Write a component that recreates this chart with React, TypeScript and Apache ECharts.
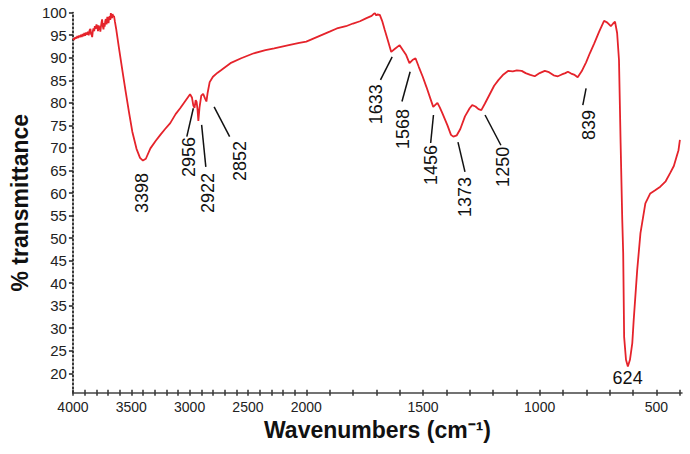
import React, { useEffect, useRef } from "react";
import * as echarts from "echarts";

// Spectrum (wavenumber in cm^-1, % transmittance)
const wavenumbers = [
  4000, 3990, 3980, 3970, 3962, 3955, 3947, 3940, 3932, 3925, 3917, 3910, 3902, 3895, 3887, 3880, 3872, 3865, 3857, 3850,
  3845, 3840, 3835, 3830, 3824, 3818, 3812, 3805, 3798, 3790, 3785, 3780, 3775, 3770, 3765, 3760, 3755, 3750, 3745, 3738,
  3733, 3728, 3723, 3718, 3712, 3705, 3700, 3695, 3690, 3685, 3680, 3675, 3670, 3665, 3661, 3657, 3652, 3648, 3640, 3630,
  3605, 3575, 3548, 3520, 3491, 3455, 3425, 3400, 3375, 3336, 3290, 3251, 3210, 3166, 3120, 3081, 3040, 2996, 2980, 2968,
  2958, 2948, 2940, 2932, 2925, 2915, 2900, 2884, 2868, 2856, 2845, 2828, 2800, 2760, 2728, 2650, 2558, 2450, 2350, 2275,
  2150, 2060, 2000,
  1950, 1900, 1869, 1830, 1800, 1770, 1742, 1720, 1712, 1706, 1700, 1695, 1685, 1675, 1664, 1650, 1636, 1620, 1600, 1585,
  1572, 1558, 1545, 1532, 1518, 1501, 1485, 1466, 1456, 1446, 1438, 1428, 1417, 1395, 1380, 1370, 1355, 1340, 1320, 1300,
  1289, 1275, 1262, 1250, 1235, 1215, 1195, 1176, 1155, 1134, 1115, 1098, 1077, 1060, 1040, 1021, 1000, 978, 960, 940,
  922, 905, 890, 879, 865, 850, 837, 820, 801, 785, 766, 745, 724, 710, 695, 685, 677, 668, 660, 653,
  646, 642, 638, 630, 622, 613, 603, 597, 582, 568, 547, 526, 505, 483, 460, 441, 425, 413, 405, 399,
];
const transmittance = [
  94.3, 94.0, 94.5, 94.3, 94.8, 94.4, 94.9, 94.6, 95.1, 94.6, 95.3, 94.8, 95.5, 94.9, 95.6, 95.1, 95.8, 95.0, 96.1, 96.4,
  95.3, 95.1, 94.6, 95.8, 96.5, 95.9, 97.0, 96.4, 97.4, 96.8, 95.9, 97.2, 96.2, 97.0, 95.8, 96.9, 97.8, 98.5, 97.2, 96.3,
  97.7, 96.9, 98.1, 98.6, 97.4, 99.1, 98.2, 97.7, 98.9, 99.2, 98.4, 99.9, 99.0, 98.8, 99.7, 99.8, 99.1, 99.3, 98.0, 96.5,
  92.1, 87.0, 82.5, 78.0, 73.6, 69.8, 67.8, 67.2, 67.6, 69.9, 71.6, 72.9, 74.2, 75.5, 77.5, 78.8, 80.3, 81.9, 81.2, 79.4,
  78.9, 80.6, 80.2, 78.5, 76.0, 79.0, 81.6, 82.0, 81.0, 80.3, 82.3, 84.6, 85.8, 86.7, 87.3, 88.8, 89.9, 91.0, 91.7, 92.1,
  92.8, 93.3, 93.6,
  94.7, 95.8, 96.5, 97.0, 97.6, 98.1, 98.8, 99.3, 99.7, 99.9, 99.4, 99.6, 99.5, 98.2, 96.2, 93.8, 91.3, 92.0, 92.8, 91.6,
  90.6, 88.8, 89.5, 89.9, 88.0, 85.8, 83.5, 80.6, 79.1, 79.6, 80.0, 79.0, 77.7, 75.0, 72.9, 72.5, 72.8, 74.2, 77.0, 78.8,
  79.5, 79.2, 78.6, 78.4, 79.8, 81.8, 83.8, 85.1, 86.3, 87.1, 87.0, 87.2, 87.1, 86.6, 86.2, 85.9, 86.6, 87.1, 86.8, 86.1,
  85.9, 86.3, 86.6, 86.9, 86.5, 86.2, 85.7, 87.0, 89.0, 91.0, 93.2, 95.8, 98.2, 97.8, 97.0, 97.6, 98.0, 95.5, 89.5, 71.0,
  54.0, 46.7, 28.1, 23.0, 21.5, 23.0, 26.7, 31.8, 42.9, 51.1, 57.7, 59.9, 60.6, 61.4, 62.6, 64.4, 66.0, 68.1, 69.5, 71.8,
];

// Axis labels
const xLabelValues = [4000, 3500, 3000, 2500, 2000, 1500, 1000, 500];
const yLabelValues = [20, 25, 30, 35, 40, 45, 50, 55, 60, 65, 70, 75, 80, 85, 90, 95, 100];
const X_END = 390;
const Y_MIN = 15.7;

// Peak annotations: text anchor (wavenumber, %T), optional leader line
const peakLabels = ["3398", "2956", "2922", "2852", "1633", "1568", "1456", "1373", "1250", "839", "624"];
const peakTextW = [3404, 3002, 2844, 2564, 1701, 1586, 1467, 1318, 1158, 789, 623];
const peakTextV = [60.0, 68.0, 60.0, 67.1, 79.7, 74.2, 66.2, 59.1, 65.8, 75.1, 19.0];
const peakRotated = [true, true, true, true, true, true, true, true, true, true, false];
const leaderFromW = [null, 2968, 2897, 2790, 1632, 1555, 1455, 1350, 1234, 801, null];
const leaderFromV = [null, 78.8, 75.1, 79.1, 90.2, 86.9, 77.3, 71.3, 77.3, 83.2, null];
const leaderToW = [null, 3024, 2861, 2657, 1682, 1590, 1467, 1320, 1166, 815, null];
const leaderToV = [null, 72.5, 65.8, 72.5, 85.1, 80.3, 71.1, 64.7, 70.6, 79.5, null];

// Split x-axis: 4000-2000 at half scale, below 2000 at full scale
const toT = (w: number) => (w >= 2000 ? (4000 - w) / 2 : 1000 + (2000 - w));
const fromT = (t: number) => (t <= 1000 ? 4000 - 2 * t : 3000 - t);

const FONT = "'Liberation Sans', Arial, Helvetica, sans-serif";
const RED = "#e5232b";

export default function App() {
  const ref = useRef<HTMLDivElement>(null);
  useEffect(() => {
    if (!ref.current) return;
    const chart = echarts.init(ref.current, null, { renderer: "svg" });
    const tickW: number[] = [];
    for (let w = 4000; w >= 400; w -= 100) tickW.push(w);
    const tickT = tickW.map(toT);
    const labelT = xLabelValues.map(toT);
    const xMax = toT(X_END);

    const baseX = {
      type: "value",
      min: 0,
      max: xMax,
      splitLine: { show: false },
    };

    chart.setOption({
      animation: false,
      backgroundColor: "#ffffff",
      grid: { left: 66.7, right: 8, top: 12.7, bottom: 61.3, containLabel: false },
      xAxis: [
        {
          ...baseX,
          name: "Wavenumbers (cm⁻¹)",
          nameLocation: "middle",
          nameGap: 25,
          nameTextStyle: { fontFamily: FONT, fontSize: 23, fontWeight: "bold", color: "#111" },
          axisLine: { show: true, lineStyle: { color: "#444", width: 1.5 } },
          axisTick: { show: true, inside: false, length: 3, lineStyle: { color: "#333", width: 1.5 }, customValues: tickT },
          axisLabel: {
            show: true,
            margin: 7,
            fontFamily: FONT,
            fontSize: 14,
            color: "#222",
            customValues: labelT,
            formatter: (v: number) => String(Math.round(fromT(v))),
          },
        },
        {
          ...baseX,
          position: "bottom",
          axisLine: { show: false },
          axisTick: { show: true, inside: true, length: 3, lineStyle: { color: "#333", width: 1.5 }, customValues: tickT },
          axisLabel: { show: false },
        },
      ],
      yAxis: {
        type: "value",
        min: Y_MIN,
        max: 100,
        name: "% transmittance",
        nameLocation: "middle",
        nameGap: 40,
        nameRotate: 90,
        nameTextStyle: { fontFamily: FONT, fontSize: 23, fontWeight: "bold", color: "#111" },
        splitLine: { show: false },
        axisLine: { show: true, lineStyle: { color: "#222", width: 1.8, type: [1.6, 2.4] } },
        axisTick: { show: true, length: 4, lineStyle: { color: "#222", width: 1.5 }, customValues: yLabelValues },
        axisLabel: { show: true, margin: 6, fontFamily: FONT, fontSize: 15, color: "#222", customValues: yLabelValues },
      },
      series: [
        {
          type: "line",
          xAxisIndex: 0,
          data: wavenumbers.map((w, i) => [toT(w), transmittance[i]]),
          showSymbol: false,
          symbol: "none",
          lineStyle: { color: RED, width: 1.8 },
          silent: true,
        },
      ],
    });

    const px = (w: number, v: number) => chart.convertToPixel({ gridIndex: 0 }, [toT(w), v]) as number[];
    const graphics: any[] = [];
    peakLabels.forEach((lab, i) => {
      const p = px(peakTextW[i], peakTextV[i]);
      graphics.push({
        type: "text",
        x: p[0],
        y: p[1],
        rotation: peakRotated[i] ? Math.PI / 2 : 0,
        style: {
          text: lab,
          fontFamily: FONT,
          fontSize: 18,
          fill: "#111",
          align: "center",
          verticalAlign: "middle",
        },
        silent: true,
      });
      const fw = leaderFromW[i];
      const fv = leaderFromV[i];
      const tw = leaderToW[i];
      const tv = leaderToV[i];
      if (fw != null && fv != null && tw != null && tv != null) {
        const a = px(fw, fv);
        const b = px(tw, tv);
        graphics.push({
          type: "line",
          shape: { x1: a[0], y1: a[1], x2: b[0], y2: b[1] },
          style: { stroke: "#111", lineWidth: 1.5 },
          silent: true,
        });
      }
    });
    chart.setOption({ graphic: graphics });

    return () => chart.dispose();
  }, []);

  return <div ref={ref} style={{ position: "fixed", left: 0, top: 0, width: 690, height: 454 }} />;
}
